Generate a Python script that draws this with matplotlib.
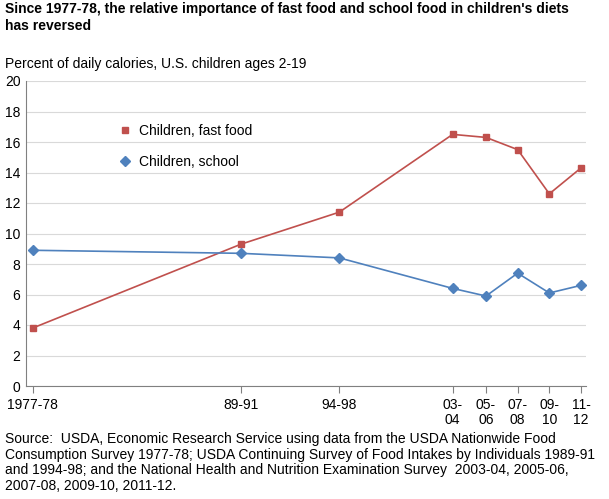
import matplotlib
matplotlib.use("Agg")
import matplotlib.pyplot as plt

plt.rcParams['font.family'] = ['Liberation Sans', 'DejaVu Sans']

periods = ['1977-78', '89-91', '94-98', '03-\n04', '05-\n06', '07-\n08', '09-\n10', '11-\n12']
x_pos = [1977.5, 1990.0, 1995.9, 2002.7, 2004.7, 2006.6, 2008.5, 2010.4]
fast_food = [3.8, 9.3, 11.4, 16.5, 16.3, 15.5, 12.6, 14.3]
school = [8.9, 8.7, 8.4, 6.4, 5.9, 7.4, 6.1, 6.6]

fig = plt.figure(figsize=(6.09, 4.99), dpi=100)
ax = fig.add_axes([26 / 609, 1 - 386 / 499, 560 / 609, 305 / 499])

ax.plot(x_pos, fast_food, color='#c0504d', marker='s', markersize=5, linewidth=1.2)
ax.plot(x_pos, school, color='#4f81bd', marker='D', markersize=5, linewidth=1.2)

ax.set_ylim(0, 20)
ax.set_yticks(range(0, 21, 2))
ax.set_xlim(1977.1, 2010.7)
ax.set_xticks(x_pos, periods)
for lbl in ax.get_xticklabels():
    lbl.set_linespacing(1.15)
ax.grid(True, axis='y', color='#d9d9d9', linewidth=0.8)
ax.set_axisbelow(True)
for s in ['top', 'right']:
    ax.spines[s].set_visible(False)
ax.spines['left'].set_color('#808080')
ax.spines['bottom'].set_color('#808080')
ax.tick_params(axis='y', length=0, labelsize=10, pad=4)
ax.tick_params(axis='x', length=5, color='#808080', labelsize=10)

ax.plot([], [], color='#c0504d', marker='s', linestyle='none', markersize=5, label='Children, fast food')
ax.plot([], [], color='#4f81bd', marker='D', linestyle='none', markersize=5, label='Children, school')
handles, labels = ax.get_legend_handles_labels()
ax.legend(handles, labels, loc='upper left', bbox_to_anchor=(0.13, 0.9), frameon=False,
          fontsize=10, labelspacing=1.25, handletextpad=0.0)

fig.text(0.008, 0.995, "Since 1977-78, the relative importance of fast food and school food in children's diets\nhas reversed",
         ha='left', va='top', fontsize=10, fontweight='bold', linespacing=1.2)
fig.text(0.008, 0.885, 'Percent of daily calories, U.S. children ages 2-19', ha='left', va='top', fontsize=10)
fig.text(0.008, 0.134, "Source:  USDA, Economic Research Service using data from the USDA Nationwide Food\n"
         "Consumption Survey 1977-78; USDA Continuing Survey of Food Intakes by Individuals 1989-91\n"
         "and 1994-98; and the National Health and Nutrition Examination Survey  2003-04, 2005-06,\n"
         "2007-08, 2009-10, 2011-12.", ha='left', va='top', fontsize=10, linespacing=1.15)

fig.savefig('out.png', dpi=100)
